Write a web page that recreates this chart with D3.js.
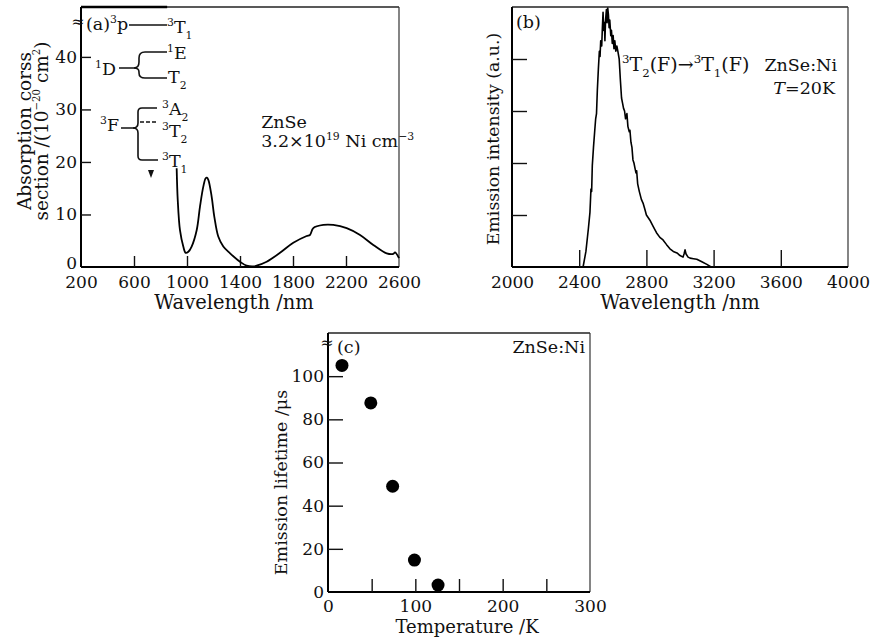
<!DOCTYPE html>
<html><head><meta charset="utf-8">
<script src="https://cdn.jsdelivr.net/npm/d3@7"></script>
<style>
body{margin:0;background:#fff;}
svg{display:block;font-family:"DejaVu Serif",serif;}
text{fill:#111;}
</style></head>
<body><svg id="c" width="871" height="643"></svg>
<script>
// ---------- DATA ----------
// (a) absorption spectrum: wavelength (nm), cross-section (1e-20 cm^2)
const absWl  = [922,930,947,972,990,1010,1035,1073,1098,1123,1141,1150,1161,1186,1206,1236,1274,1325,1400,1450,1500,1526,1601,1702,1802,1903,1928,1953,2029,2104,2205,2306,2406,2507,2557,2570,2600];
const absVal = [18.8,12.8,7.0,3.9,2.7,2.9,3.9,7.0,11.5,15.3,16.9,17.0,16.6,13.4,9.6,5.8,3.9,2.6,1.0,0.25,0.1,0.25,1.0,2.7,4.6,5.9,6.1,7.4,8.0,8.0,7.4,6.1,4.2,2.6,2.5,2.8,1.7];
const absXTicks = [200,600,1000,1400,1800,2200,2600];
const absYTicks = [0,10,20,30,40];

// (b) emission spectrum at 20 K: wavelength (nm), intensity (a.u.)
const emWl  = [2423,2440,2455,2464,2470,2474,2478,2485,2492,2498,2503,2508,2514,2520,2524,2528,2534,2538,2542,2546,2550,2553,2557,2562,2566,2570,2574,2578,2582,2588,2592,2597,2602,2607,2612,2618,2624,2630,2638,2645,2652,2658,2664,2670,2676,2684,2690,2698,2702,2708,2714,2720,2726,2732,2738,2742,2748,2758,2770,2780,2790,2800,2821,2840,2860,2880,2899,2920,2940,2960,2982,3000,3018,3024,3030,3036,3048,3060,3080,3100,3130,3160,3185];
const emVal = [0,0.3,0.75,1.05,1.5,1.45,1.95,2.3,2.6,2.85,2.95,3.4,3.8,4.15,4.05,4.35,4.25,4.6,4.9,4.55,4.7,4.35,4.75,4.95,4.7,4.98,4.85,4.6,4.75,4.45,4.55,4.3,4.45,4.2,4.35,4.15,4.25,4.15,4.0,3.6,3.25,3.15,3.05,3.0,2.85,2.95,2.7,2.6,2.63,2.4,2.3,2.06,2.0,1.9,1.81,1.85,1.6,1.45,1.3,1.23,1.12,1.0,0.9,0.78,0.66,0.57,0.52,0.43,0.35,0.3,0.27,0.22,0.19,0.25,0.33,0.25,0.19,0.17,0.16,0.15,0.1,0.05,0];
const emXTicks = [2000,2400,2800,3200,3600,4000];
const emYTicks = [1,2,3,4];

// (c) emission lifetime vs temperature
const temps     = [16,49,74,99,126];
const lifetimes = [105,87.6,49,14.8,3.2];
const ltXTicks = [0,100,200,300];
const ltXMinor = [50,150,250];
const ltYTicks = [0,20,40,60,80,100];

// ---------- HELPERS ----------
const svg = d3.select("#c");
function rich(sel, x, y, parts, size, anchor, ss){
  const t = sel.append("text").attr("x",x).attr("y",y).attr("font-size",size)
    .attr("text-anchor",anchor||"start");
  const sc = ss || 0.62;
  let cur = 0;
  parts.forEach(p=>{
    const o = typeof p === "string" ? {t:p} : p;
    const off = o.sup ? -0.42*size : (o.sub ? 0.34*size : 0);
    const ts = t.append("tspan").attr("dy", off-cur).text(o.t);
    if(o.sup||o.sub) ts.attr("font-size", size*sc);
    if(o.it) ts.attr("font-style","italic");
    cur = off;
  });
  return t;
}
function frame(g, w, h){
  g.append("line").attr("x1",0).attr("x2",w).attr("y1",0).attr("y2",0).attr("stroke","#222").attr("stroke-width",1.3);
  g.append("line").attr("x1",w).attr("x2",w).attr("y1",0).attr("y2",h).attr("stroke","#333").attr("stroke-width",1.2);
  g.append("line").attr("x1",0).attr("x2",0).attr("y1",0).attr("y2",h).attr("stroke","#000").attr("stroke-width",2);
  g.append("line").attr("x1",0).attr("x2",w).attr("y1",h).attr("y2",h).attr("stroke","#000").attr("stroke-width",2);
}
function styleAxis(a){
  a.select(".domain").remove();
  a.selectAll("text").attr("font-size",TICK).attr("font-family","DejaVu Serif").attr("fill","#111");
  a.selectAll("line").attr("stroke","#111").attr("stroke-width",1.4);
}
const TICK=17, TW=19.5;

// ---------- PANEL (a) ----------
{
  const L=81,T=7,W=318,H=260;
  const g = svg.append("g").attr("transform",`translate(${L},${T})`);
  const x = d3.scaleLinear().domain([200,2600]).range([0,W]);
  const y = d3.scaleLinear().domain([0,49.5]).range([H,0]);
  frame(g,W,H);
  g.append("line").attr("x1",x(200)).attr("x2",x(850)).attr("y1",0).attr("y2",0).attr("stroke","#000").attr("stroke-width",2.5);
  const xa = g.append("g").attr("transform",`translate(0,${H})`)
    .call(d3.axisBottom(x).tickValues(absXTicks).tickSize(-11).tickPadding(9).tickFormat(d3.format("d")));
  const ya = g.append("g").call(d3.axisLeft(y).tickValues(absYTicks).tickSize(-10).tickPadding(4));
  styleAxis(xa); styleAxis(ya);
  xa.selectAll(".tick").filter(d=>d===200||d===2600).select("line").remove();
  ya.selectAll(".tick").filter(d=>d===0).select("line").remove();
  ya.selectAll(".tick").filter(d=>d===0).select("text").attr("dy","0.1em");
  const line = d3.line().x(i=>x(absWl[i])).y(i=>y(absVal[i])).curve(d3.curveCatmullRom.alpha(0.5));
  g.append("path").attr("d",line(d3.range(absWl.length))).attr("fill","none").attr("stroke","#000").attr("stroke-width",1.8);
  // axis titles
  g.append("text").attr("x",W/2-6).attr("y",H+42).attr("text-anchor","middle").attr("font-size",TW).text("Wavelength /nm");
  const yl = svg.append("g").attr("transform","translate(31,131) rotate(-90)");
  yl.append("text").attr("text-anchor","middle").attr("font-size",18.5).text("Absorption corss");
  rich(yl,0,17,["section /(10",{t:"−20",sup:true}," cm",{t:"2",sup:true},")"],18.5,"middle",0.55);
  // break mark
  svg.append("text").attr("x",L-3).attr("y",27).attr("text-anchor","middle").attr("font-size",16).text("≈");
  // energy level diagram
  const s = svg.append("g");
  const st = {stroke:"#111","stroke-width":1.6,fill:"none"};
  const P = (d,dash)=>{const p=s.append("path").attr("d",d); Object.entries(st).forEach(([k,v])=>p.attr(k,v)); if(dash) p.attr("stroke-dasharray",dash); return p;};
  rich(s,86,30,["(a)",{t:"3",sup:true},"p"],17.5);
  P("M129,25 L167,25");
  rich(s,167,33,[{t:"3",sup:true},"T",{t:"1",sub:true}],17.5);
  rich(s,95,75,[{t:"1",sup:true},"D"],17.5);
  P("M119,68 L134,68 Q139,68 139,62 L139,58 Q139,52 145,52 L167,52");
  P("M134,68 Q139,68 139,72 L139,73 Q139,78 145,78 L167,78");
  rich(s,167,59,[{t:"1",sup:true},"E"],17.5);
  rich(s,168,83,["T",{t:"2",sub:true}],17.5);
  rich(s,100,131,[{t:"3",sup:true},"F"],17.5);
  P("M121,128 L133,128 Q138,128 138,123 L138,112 Q138,108 142,108 L157,108");
  P("M133,128 Q138,128 138,133 L138,156 Q138,160 142,160 L158,160");
  P("M140,122 L157,122","4,2");
  rich(s,162,115,[{t:"3",sup:true},"A",{t:"2",sub:true}],17.5);
  rich(s,162,137,[{t:"3",sup:true},"T",{t:"2",sub:true}],17.5);
  rich(s,162,167,[{t:"3",sup:true},"T",{t:"1",sub:true}],17.5);
  s.append("path").attr("d","M148,170 L154,170 L151,178 Z").attr("fill","#111");
  g.append("text").attr("x",x(1560)).attr("y",121).attr("font-size",17.5).text("ZnSe");
  rich(g,x(1560),140,["3.2×10",{t:"19",sup:true}," Ni cm",{t:"−3",sup:true}],17.5);
}

// ---------- PANEL (b) ----------
{
  const L=512,T=7,W=336,H=260;
  const g = svg.append("g").attr("transform",`translate(${L},${T})`);
  const x = d3.scaleLinear().domain([2000,4000]).range([0,W]);
  const y = d3.scaleLinear().domain([0,5]).range([H,0]);
  frame(g,W,H);
  const xa = g.append("g").attr("transform",`translate(0,${H})`)
    .call(d3.axisBottom(x).tickValues(emXTicks).tickSize(-17).tickPadding(9).tickFormat(d3.format("d")));
  const ya = g.append("g").call(d3.axisLeft(y).tickValues(emYTicks).tickSize(-15).tickFormat(""));
  styleAxis(xa); styleAxis(ya);
  xa.selectAll(".tick").filter(d=>d===2000||d===4000).select("line").remove();
  const line = d3.line().x(i=>x(emWl[i])).y(i=>y(emVal[i]));
  g.append("path").attr("d",line(d3.range(emWl.length))).attr("fill","none").attr("stroke","#000").attr("stroke-width",1.6).attr("stroke-linejoin","round");
  g.append("text").attr("x",4).attr("y",21).attr("font-size",17.5).text("(b)");
  rich(g,110,64,[{t:"3",sup:true},"T",{t:"2",sub:true},"(F)→",{t:"3",sup:true},"T",{t:"1",sub:true},"(F)"],19);
  g.append("text").attr("x",325).attr("y",64).attr("text-anchor","end").attr("font-size",17.5).text("ZnSe:Ni");
  rich(g,323,87,[{t:"T",it:true},"=20K"],17.5,"end");
  g.append("text").attr("x",W/2).attr("y",H+42).attr("text-anchor","middle").attr("font-size",TW).text("Wavelength /nm");
  svg.append("text").attr("transform","translate(499,139) rotate(-90)").attr("text-anchor","middle").attr("font-size",17.3).text("Emission intensity (a.u.)");
}

// ---------- PANEL (c) ----------
{
  const L=328,T=333,W=262,H=259;
  const g = svg.append("g").attr("transform",`translate(${L},${T})`);
  const x = d3.scaleLinear().domain([0,300]).range([0,W]);
  const y = d3.scaleLinear().domain([0,120]).range([H,0]);
  frame(g,W,H);
  const xa = g.append("g").attr("transform",`translate(0,${H})`)
    .call(d3.axisBottom(x).tickValues(ltXTicks.concat(ltXMinor)).tickSize(-13).tickPadding(8).tickFormat(d=>ltXTicks.includes(d)?d:""));
  const ya = g.append("g").call(d3.axisLeft(y).tickValues(ltYTicks).tickSize(-15).tickPadding(4));
  styleAxis(xa); styleAxis(ya);
  xa.selectAll(".tick").filter(d=>d===0||d===300).select("line").remove();
  ya.selectAll(".tick").filter(d=>d===0).select("line").remove();
  g.selectAll("circle.pt").data(temps).enter().append("circle").attr("class","pt")
    .attr("cx",(d)=>x(d)).attr("cy",(d,i)=>y(lifetimes[i])).attr("r",6.5).attr("fill","#000");
  g.append("text").attr("x",9).attr("y",20).attr("font-size",17.5).text("(c)");
  g.append("text").attr("x",W-5).attr("y",20).attr("text-anchor","end").attr("font-size",17.5).text("ZnSe:Ni");
  g.append("text").attr("x",W/2+8).attr("y",H+41).attr("text-anchor","middle").attr("font-size",18).text("Temperature /K");
  svg.append("text").attr("transform",`translate(287,${T+H/2+20}) rotate(-90)`).attr("text-anchor","middle").attr("font-size",17.5).text("Emission lifetime /μs");
  svg.append("text").attr("x",L-1).attr("y",T+15).attr("text-anchor","middle").attr("font-size",16).text("≈");
}
</script></body></html>
